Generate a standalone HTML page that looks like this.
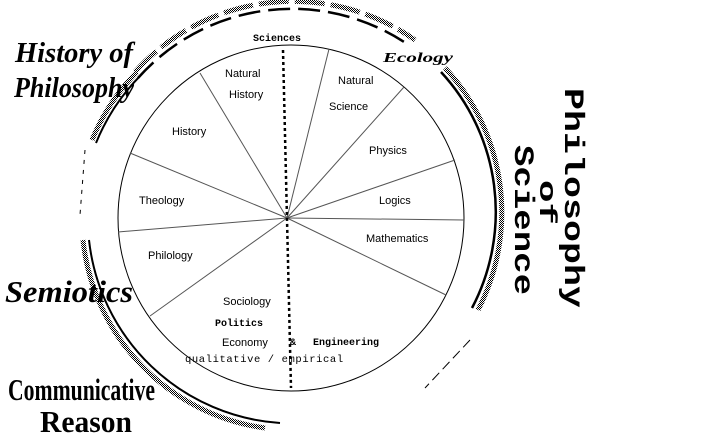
<!DOCTYPE html>
<html><head><style>
body{margin:0;background:#fff;width:706px;height:439px;overflow:hidden}
svg{display:block}
.s{font-family:"Liberation Sans",sans-serif;font-size:11px;fill:#000}
.m{font-family:"Liberation Mono",monospace;font-size:10px;font-weight:bold;fill:#000}
.b{font-family:"Liberation Serif",serif;font-weight:bold;font-style:italic;fill:#000}
</style></head><body>
<svg width="706" height="439" viewBox="0 0 706 439">
<defs>
<pattern id="g" width="2" height="2" patternUnits="userSpaceOnUse"><rect width="2" height="2" fill="#fff"/><rect width="1" height="1" fill="#000"/><rect x="1" y="1" width="1" height="1" fill="#000"/></pattern>
</defs>
<g fill="none">
<path d="M135,72 A212,212 0 0 1 415,40" stroke="url(#g)" stroke-width="5" stroke-dasharray="30,6"/>
<path d="M138,78 A206,206 0 0 1 410,46" stroke="#000" stroke-width="2.5" stroke-dasharray="22,8"/>
<path d="M92,140 A212,212 0 0 1 137,72" stroke="url(#g)" stroke-width="5"/>
<path d="M96,143 A207,207 0 0 1 140,76" stroke="#000" stroke-width="2"/>
<path d="M445,68 A212,212 0 0 1 478,310" stroke="url(#g)" stroke-width="5"/>
<path d="M441,72 A206,206 0 0 1 472,308" stroke="#000" stroke-width="2.5"/>
<path d="M83,240 A212,212 0 0 0 265,428" stroke="url(#g)" stroke-width="5"/>
<path d="M89,240 A206,206 0 0 0 280,423" stroke="#000" stroke-width="2"/>
<path d="M85,150 L80,215" stroke="#000" stroke-width="1" stroke-dasharray="4,6"/>
<path d="M470,340 L425,388" stroke="#000" stroke-width="1" stroke-dasharray="10,5"/>
<circle cx="291" cy="218" r="173" stroke="#000" stroke-width="1"/>
<g stroke="#555" stroke-width="1">
<line x1="287" y1="218" x2="200" y2="73"/>
<line x1="287" y1="218" x2="130" y2="153"/>
<line x1="287" y1="218" x2="118" y2="232"/>
<line x1="287" y1="218" x2="150" y2="316"/>
<line x1="287" y1="218" x2="329" y2="49"/>
<line x1="287" y1="218" x2="404" y2="87"/>
<line x1="287" y1="218" x2="455" y2="160"/>
<line x1="287" y1="218" x2="464" y2="220"/>
<line x1="287" y1="218" x2="446" y2="295"/>
</g>
<line x1="283" y1="50" x2="291" y2="388" stroke="#000" stroke-width="2.5" stroke-dasharray="3,3"/>
</g>
<text class="m" x="253" y="41">Sciences</text>
<text class="s" x="225" y="77">Natural</text>
<text class="s" x="229" y="98">History</text>
<text class="s" x="338" y="84">Natural</text>
<text class="s" x="329" y="110">Science</text>
<text class="s" x="172" y="135">History</text>
<text class="s" x="369" y="154">Physics</text>
<text class="s" x="139" y="204">Theology</text>
<text class="s" x="379" y="204">Logics</text>
<text class="s" x="366" y="242">Mathematics</text>
<text class="s" x="148" y="259">Philology</text>
<text class="s" x="223" y="305">Sociology</text>
<text class="m" x="215" y="326">Politics</text>
<text class="s" x="222" y="346">Economy</text>
<text class="m" x="290" y="345">&amp;</text>
<text class="m" x="313" y="345">Engineering</text>
<text x="185" y="362" style="font-family:'Liberation Mono',monospace;font-size:10.5px;letter-spacing:0.6px">qualitative / empirical</text>
<text class="b" x="15" y="62" font-size="29" textLength="118" lengthAdjust="spacingAndGlyphs">History of</text>
<text class="b" x="14" y="97" font-size="29" textLength="120" lengthAdjust="spacingAndGlyphs">Philosophy</text>
<text class="b" x="383" y="62" font-size="14" textLength="70" lengthAdjust="spacingAndGlyphs">Ecology</text>
<text class="b" x="5" y="302" font-size="31" textLength="128" lengthAdjust="spacingAndGlyphs">Semiotics</text>
<text class="b" x="8" y="400" font-size="31" style="font-style:normal" textLength="147" lengthAdjust="spacingAndGlyphs">Communicative</text>
<text class="b" x="40" y="432" font-size="31" style="font-style:normal" textLength="92" lengthAdjust="spacingAndGlyphs">Reason</text>
<g font-family="Liberation Mono,monospace" font-weight="bold" font-size="28">
<text transform="translate(565,88) rotate(90)" textLength="220" lengthAdjust="spacingAndGlyphs">Philosophy</text>
<text transform="translate(540,180) rotate(90)" font-size="24" textLength="45" lengthAdjust="spacingAndGlyphs">of</text>
<text transform="translate(515,145) rotate(90)" textLength="150" lengthAdjust="spacingAndGlyphs">Science</text>
</g>
</svg>
</body></html>
